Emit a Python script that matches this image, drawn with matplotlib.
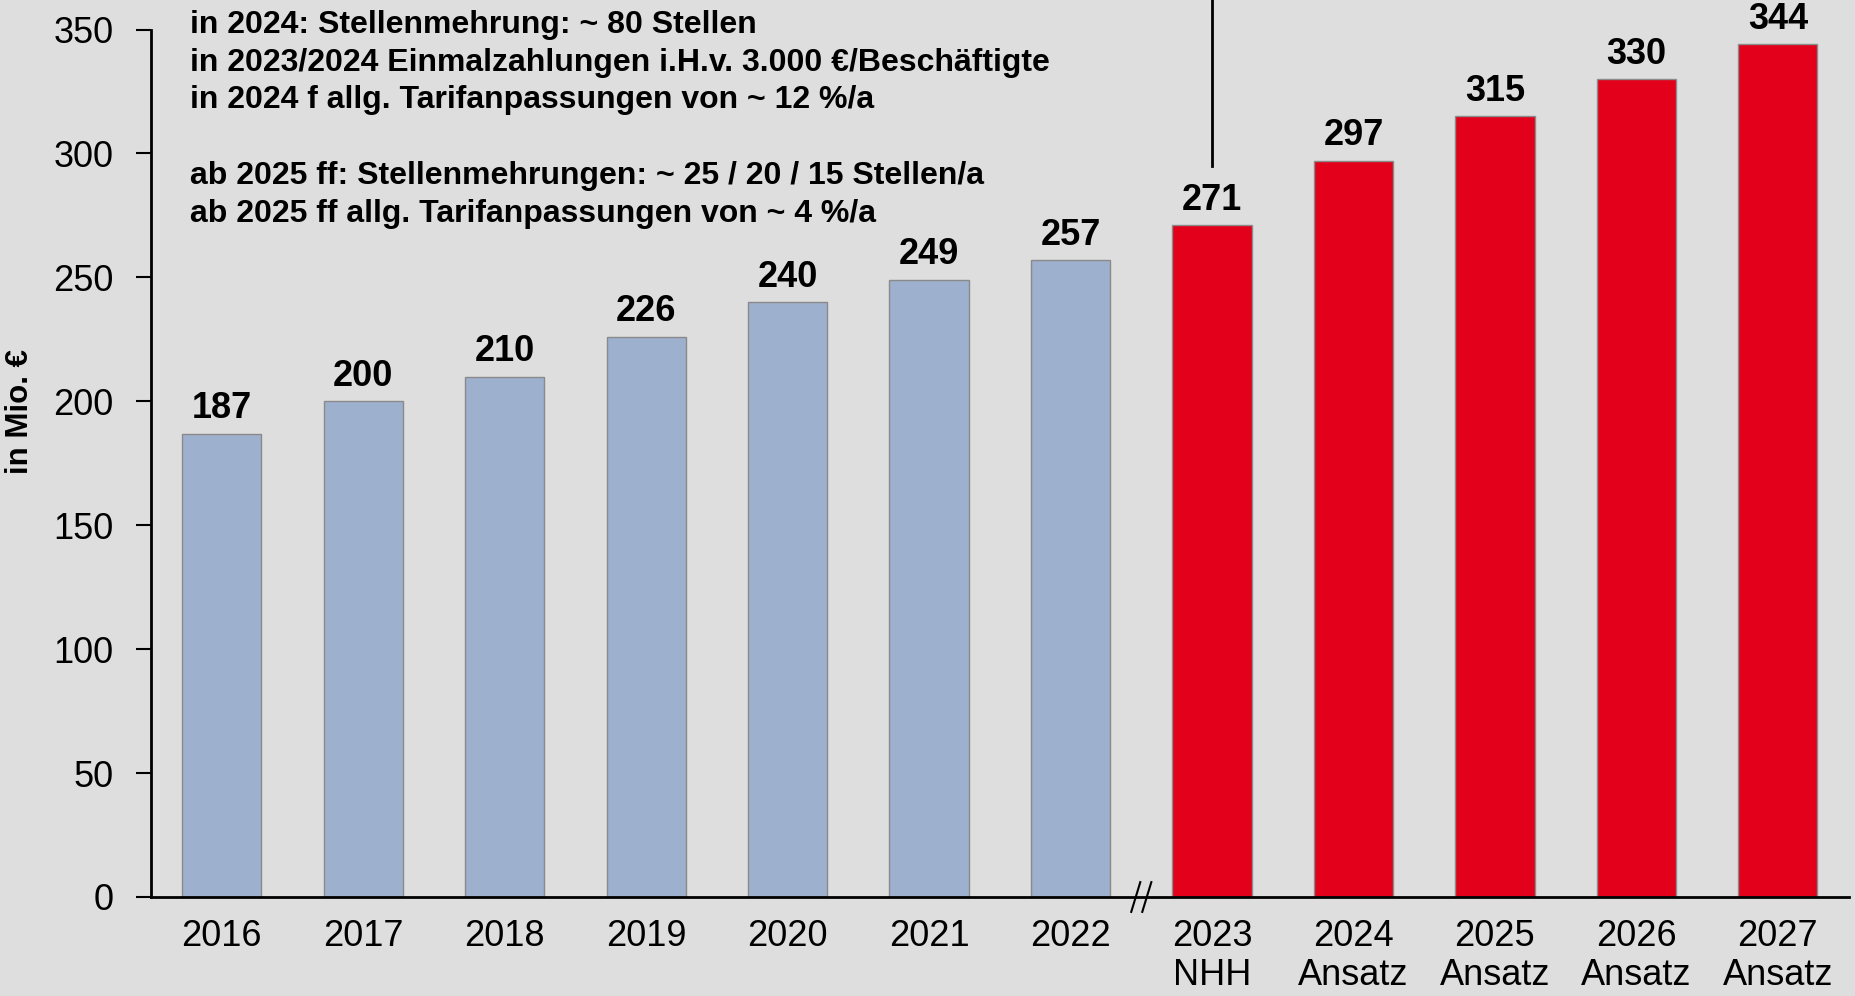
import matplotlib.pyplot as plt

plt.rcParams['font.family'] = ['Liberation Sans', 'DejaVu Sans']

# data
years = ['2016', '2017', '2018', '2019', '2020', '2021', '2022',
         '2023\nNHH', '2024\nAnsatz', '2025\nAnsatz', '2026\nAnsatz', '2027\nAnsatz']
values = [187, 200, 210, 226, 240, 249, 257, 271, 297, 315, 330, 344]
n_actual = 7  # first 7 bars are Ist-Werte (blue), rest are plan (red)

notes = ("in 2024: Stellenmehrung: ~ 80 Stellen\n"
         "in 2023/2024 Einmalzahlungen i.H.v. 3.000 €/Beschäftigte\n"
         "in 2024 f allg. Tarifanpassungen von ~ 12 %/a\n"
         "\n"
         "ab 2025 ff: Stellenmehrungen: ~ 25 / 20 / 15 Stellen/a\n"
         "ab 2025 ff allg. Tarifanpassungen von ~ 4 %/a")

bg = '#DEDEDE'
blue = '#9DB0CE'
red = '#E2001A'

fig = plt.figure(figsize=(18.56, 9.96), dpi=100)
fig.patch.set_facecolor(bg)
ax = fig.add_axes([0.0814, 0.0994, 0.9146, 0.8709])
ax.set_facecolor(bg)

x = list(range(len(values)))
colors = [blue if i < n_actual else red for i in x]
ax.bar(x, values, width=0.56, color=colors, edgecolor='#8A8A8A', linewidth=1.0, zorder=2)

for xi, v in zip(x, values):
    ax.text(xi, v + 3, str(v), ha='center', va='bottom', fontsize=26, fontweight='bold')

ax.set_xlim(-0.5, 11.5)
ax.set_ylim(0, 350)
ax.set_yticks(range(0, 351, 50))
ax.set_xticks(x)
ax.set_xticklabels(years, fontsize=26, linespacing=1.15)
ax.tick_params(axis='y', labelsize=26, length=11, width=1.5, pad=16, direction='out')
ax.tick_params(axis='x', length=0, pad=16)

for s in ['top', 'right']:
    ax.spines[s].set_visible(False)
ax.spines['left'].set_linewidth(2)
ax.spines['bottom'].set_linewidth(2)

ax.set_ylabel('in Mio. €', fontsize=22.5, fontweight='bold')
ax.yaxis.set_label_coords(-0.0683, 0.56)

# axis break marks between 2022 and 2023
for off in (-0.039, 0.039):
    xc = n_actual - 0.5 + off
    ax.plot([xc - 0.032, xc + 0.032], [-6, 6], color='black', lw=1.5, clip_on=False, zorder=5)

# separator line above the 2023 bar
ax.plot([n_actual, n_actual], [295, 365], color='black', lw=2, clip_on=False)

ax.text(-0.225, 358, notes, ha='left', va='top', fontsize=23, fontweight='bold',
        linespacing=1.34)

fig.savefig('out.png', dpi=100, facecolor=bg)
